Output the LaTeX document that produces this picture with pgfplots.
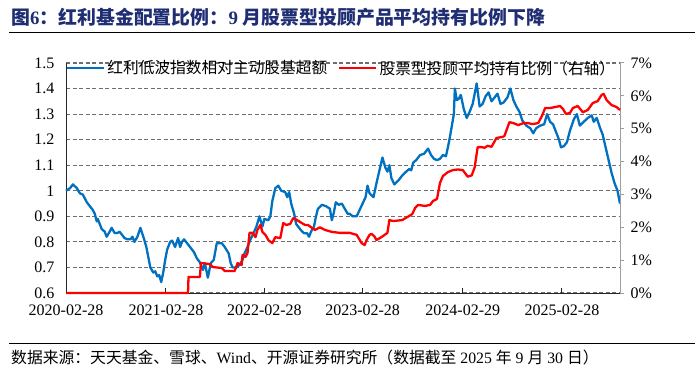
\documentclass[border=0pt]{standalone}
\usepackage{fontspec}
\setmainfont{Liberation Serif}
\newfontfamily\cjk{Noto Sans CJK SC}
\usepackage{pgfplots}
\pgfplotsset{compat=1.18}
\definecolor{titleblue}{RGB}{31,45,115}
\definecolor{serblue}{RGB}{0,112,192}
\definecolor{serred}{RGB}{255,0,0}
\definecolor{gridgray}{RGB}{110,110,110}
\begin{document}
\begin{tikzpicture}
\path[use as bounding box] (0,0) rectangle (700pt,375pt);
\node[anchor=west, text=titleblue, inner sep=0pt] at (11pt,358pt)
  {\fontsize{18.9}{20}\selectfont\bfseries{\cjk 图}6{\cjk ：红利基金配置比例：}9 {\cjk 月股票型投顾产品平均持有比例下降}};
\draw[line width=1pt] (9pt,342pt) -- (695pt,342pt);
\draw[line width=1pt] (9pt,32pt) -- (695pt,32pt);
\node[anchor=west, inner sep=0pt] at (11pt,18pt)
  {\fontsize{15.8}{17}\selectfont{\cjk 数据来源：天天基金、雪球、}Wind{\cjk 、开源证券研究所（数据截至} 2025 {\cjk 年} 9 {\cjk 月} 30 {\cjk 日）}};

\begin{axis}[
  at={(66pt,82pt)}, anchor=south west, scale only axis,
  width=554pt, height=230pt,
  xmin=0, xmax=5.585, ymin=0.6, ymax=1.5,
  clip=false,
  axis y line*=left, axis x line*=bottom,
  axis line style={black!85, line width=1pt, -},
  xtick={0,1.008,2,2.99,4,5},
  xticklabels={2020-02-28,2021-02-28,2022-02-28,2023-02-28,2024-02-29,2025-02-28},
  ytick={0.6,0.7,0.8,0.9,1,1.1,1.2,1.3,1.4,1.5},
  yticklabels={0.6,0.7,0.8,0.9,1,1.1,1.2,1.3,1.4,1.5},
  ymajorgrids,
  major grid style={gridgray, line width=1.1pt, dash pattern=on 4pt off 2.5pt},
  xtick align=inside, ytick align=inside,
  major tick length=5pt,
  x tick style={black!85, line width=1pt},
  y tick style={draw=none},
  tick label style={font=\fontsize{16}{16}\selectfont},
  xticklabel style={yshift=-8pt},
  yticklabel style={xshift=-8pt},
  legend style={at={(0,0.978)}, anchor=west, draw=none, fill=none,
    inner xsep=0pt, inner ysep=0pt,
    font=\cjk\fontsize{15.7}{16}\selectfont,
    /tikz/every even column/.append style={column sep=9pt}},
  legend columns=2,
  legend image code/.code={\draw[#1] (0pt,0pt) -- (37pt,0pt);},
]
\addplot[serblue, line width=2.3pt, line join=round] coordinates {
(0.00,1.00)(0.04,1.01)(0.07,1.025)(0.11,1.01)(0.14,0.99)(0.17,0.985)(0.21,0.955)(0.24,0.94)(0.27,0.925)(0.29,0.91)(0.31,0.88)(0.32,0.89)(0.34,0.87)(0.36,0.85)(0.39,0.84)(0.41,0.82)(0.44,0.84)(0.46,0.855)(0.49,0.835)(0.52,0.835)(0.54,0.84)(0.57,0.825)(0.59,0.815)(0.62,0.81)(0.65,0.81)(0.67,0.82)(0.69,0.80)(0.72,0.82)(0.75,0.855)(0.78,0.82)(0.81,0.78)(0.83,0.74)(0.85,0.70)(0.88,0.68)(0.90,0.685)(0.92,0.665)(0.94,0.67)(0.96,0.643)(0.98,0.68)(1.00,0.73)(1.02,0.77)(1.05,0.80)(1.07,0.805)(1.10,0.78)(1.13,0.815)(1.15,0.78)(1.17,0.80)(1.19,0.81)(1.21,0.80)(1.23,0.79)(1.26,0.775)(1.29,0.76)(1.32,0.735)(1.35,0.72)(1.38,0.69)(1.40,0.717)(1.43,0.66)(1.46,0.717)(1.49,0.73)(1.52,0.795)(1.57,0.795)(1.60,0.78)(1.64,0.755)(1.66,0.717)(1.68,0.70)(1.72,0.70)(1.75,0.71)(1.78,0.73)(1.80,0.755)(1.83,0.78)(1.86,0.81)(1.89,0.834)(1.92,0.86)(1.95,0.90)(1.98,0.86)(2.00,0.89)(2.04,0.885)(2.06,0.90)(2.08,0.96)(2.11,1.01)(2.14,1.02)(2.17,1.00)(2.21,0.995)(2.23,0.975)(2.25,0.995)(2.27,0.95)(2.30,0.91)(2.32,0.87)(2.34,0.86)(2.37,0.845)(2.40,0.834)(2.43,0.834)(2.45,0.82)(2.47,0.84)(2.50,0.86)(2.52,0.90)(2.54,0.93)(2.58,0.945)(2.62,0.94)(2.66,0.93)(2.68,0.885)(2.70,0.915)(2.72,0.955)(2.75,0.945)(2.78,0.95)(2.81,0.93)(2.84,0.91)(2.86,0.91)(2.89,0.90)(2.93,0.90)(2.96,0.925)(2.99,0.95)(3.02,0.975)(3.04,1.02)(3.06,0.99)(3.10,0.975)(3.13,1.03)(3.16,1.08)(3.19,1.13)(3.22,1.09)(3.24,1.075)(3.26,1.10)(3.28,1.05)(3.31,1.025)(3.35,1.04)(3.39,1.06)(3.43,1.075)(3.46,1.085)(3.48,1.08)(3.50,1.11)(3.53,1.12)(3.57,1.14)(3.61,1.145)(3.65,1.165)(3.68,1.14)(3.71,1.125)(3.74,1.12)(3.77,1.125)(3.80,1.14)(3.83,1.135)(3.85,1.17)(3.87,1.21)(3.89,1.255)(3.91,1.30)(3.92,1.40)(3.94,1.355)(3.96,1.36)(3.98,1.375)(4.01,1.32)(4.04,1.285)(4.07,1.31)(4.10,1.34)(4.14,1.42)(4.17,1.33)(4.20,1.34)(4.23,1.37)(4.26,1.385)(4.29,1.35)(4.32,1.365)(4.35,1.38)(4.38,1.34)(4.41,1.345)(4.45,1.365)(4.48,1.40)(4.51,1.355)(4.54,1.33)(4.57,1.31)(4.60,1.275)(4.64,1.255)(4.68,1.245)(4.71,1.225)(4.74,1.245)(4.78,1.255)(4.82,1.26)(4.85,1.30)(4.88,1.27)(4.91,1.26)(4.94,1.23)(4.97,1.20)(4.99,1.17)(5.02,1.175)(5.05,1.19)(5.08,1.235)(5.12,1.28)(5.15,1.30)(5.18,1.255)(5.22,1.27)(5.26,1.285)(5.30,1.295)(5.32,1.27)(5.35,1.285)(5.38,1.25)(5.41,1.22)(5.44,1.17)(5.47,1.12)(5.50,1.07)(5.53,1.03)(5.56,1.00)(5.585,0.95)
};
\addlegendentry{红利低波指数相对主动股基超额}
\addlegendimage{serred, line width=2.3pt}
\addlegendentry{股票型投顾平均持有比例（右轴）}
\end{axis}

\begin{axis}[
  at={(66pt,82pt)}, anchor=south west, scale only axis,
  width=554pt, height=230pt,
  xmin=0, xmax=5.585, ymin=0, ymax=7,
  clip=false,
  axis y line*=right, axis x line=none,
  axis line style={gray!75, line width=1pt, -},
  ytick={0,1,2,3,4,5,6,7},
  yticklabels={0\%,1\%,2\%,3\%,4\%,5\%,6\%,7\%},
  ytick align=outside, major tick length=4pt,
  y tick style={gray!75, line width=1pt},
  tick label style={font=\fontsize{16}{16}\selectfont},
  yticklabel style={xshift=3pt},
]
\addplot[serred, line width=2.3pt, line join=round] coordinates {
(0,0)(1.23,0)(1.235,0.49)(1.35,0.49)(1.36,0.91)(1.45,0.88)(1.48,0.79)(1.57,0.76)(1.60,0.67)(1.70,0.67)(1.73,0.91)(1.77,0.85)(1.78,1.16)(1.81,1.10)(1.83,1.22)(1.85,1.83)(1.88,1.83)(1.91,1.70)(1.93,1.92)(1.96,2.07)(1.98,1.86)(2.01,1.77)(2.04,1.61)(2.08,1.52)(2.11,1.70)(2.16,1.67)(2.19,2.13)(2.22,2.07)(2.26,2.10)(2.29,2.28)(2.33,2.22)(2.36,2.16)(2.41,2.07)(2.44,2.07)(2.48,1.98)(2.51,1.92)(2.56,2.00)(2.61,1.92)(2.68,1.86)(2.76,1.83)(2.86,1.83)(2.93,1.77)(2.98,1.52)(3.01,1.46)(3.03,1.61)(3.06,1.77)(3.08,1.80)(3.11,1.72)(3.13,1.61)(3.19,1.72)(3.24,1.83)(3.26,2.22)(3.30,2.19)(3.39,2.22)(3.44,2.31)(3.49,2.40)(3.52,2.59)(3.55,2.68)(3.62,2.65)(3.67,2.68)(3.70,2.80)(3.74,2.86)(3.77,3.35)(3.80,3.56)(3.85,3.68)(3.90,3.74)(3.95,3.76)(4.00,3.74)(4.05,3.54)(4.09,3.58)(4.12,3.83)(4.15,4.44)(4.19,4.44)(4.22,4.42)(4.25,4.48)(4.29,4.45)(4.34,4.72)(4.40,4.75)(4.42,4.78)(4.47,5.20)(4.51,5.17)(4.56,5.11)(4.61,5.17)(4.66,5.17)(4.70,5.14)(4.76,5.17)(4.80,5.40)(4.83,5.63)(4.88,5.63)(4.93,5.66)(4.98,5.69)(5.01,5.60)(5.04,5.45)(5.08,5.48)(5.11,5.63)(5.16,5.69)(5.21,5.50)(5.26,5.57)(5.31,5.78)(5.36,5.84)(5.40,6.03)(5.42,6.06)(5.45,5.87)(5.50,5.72)(5.55,5.66)(5.585,5.57)
};
\end{axis}
\end{tikzpicture}
\end{document}
